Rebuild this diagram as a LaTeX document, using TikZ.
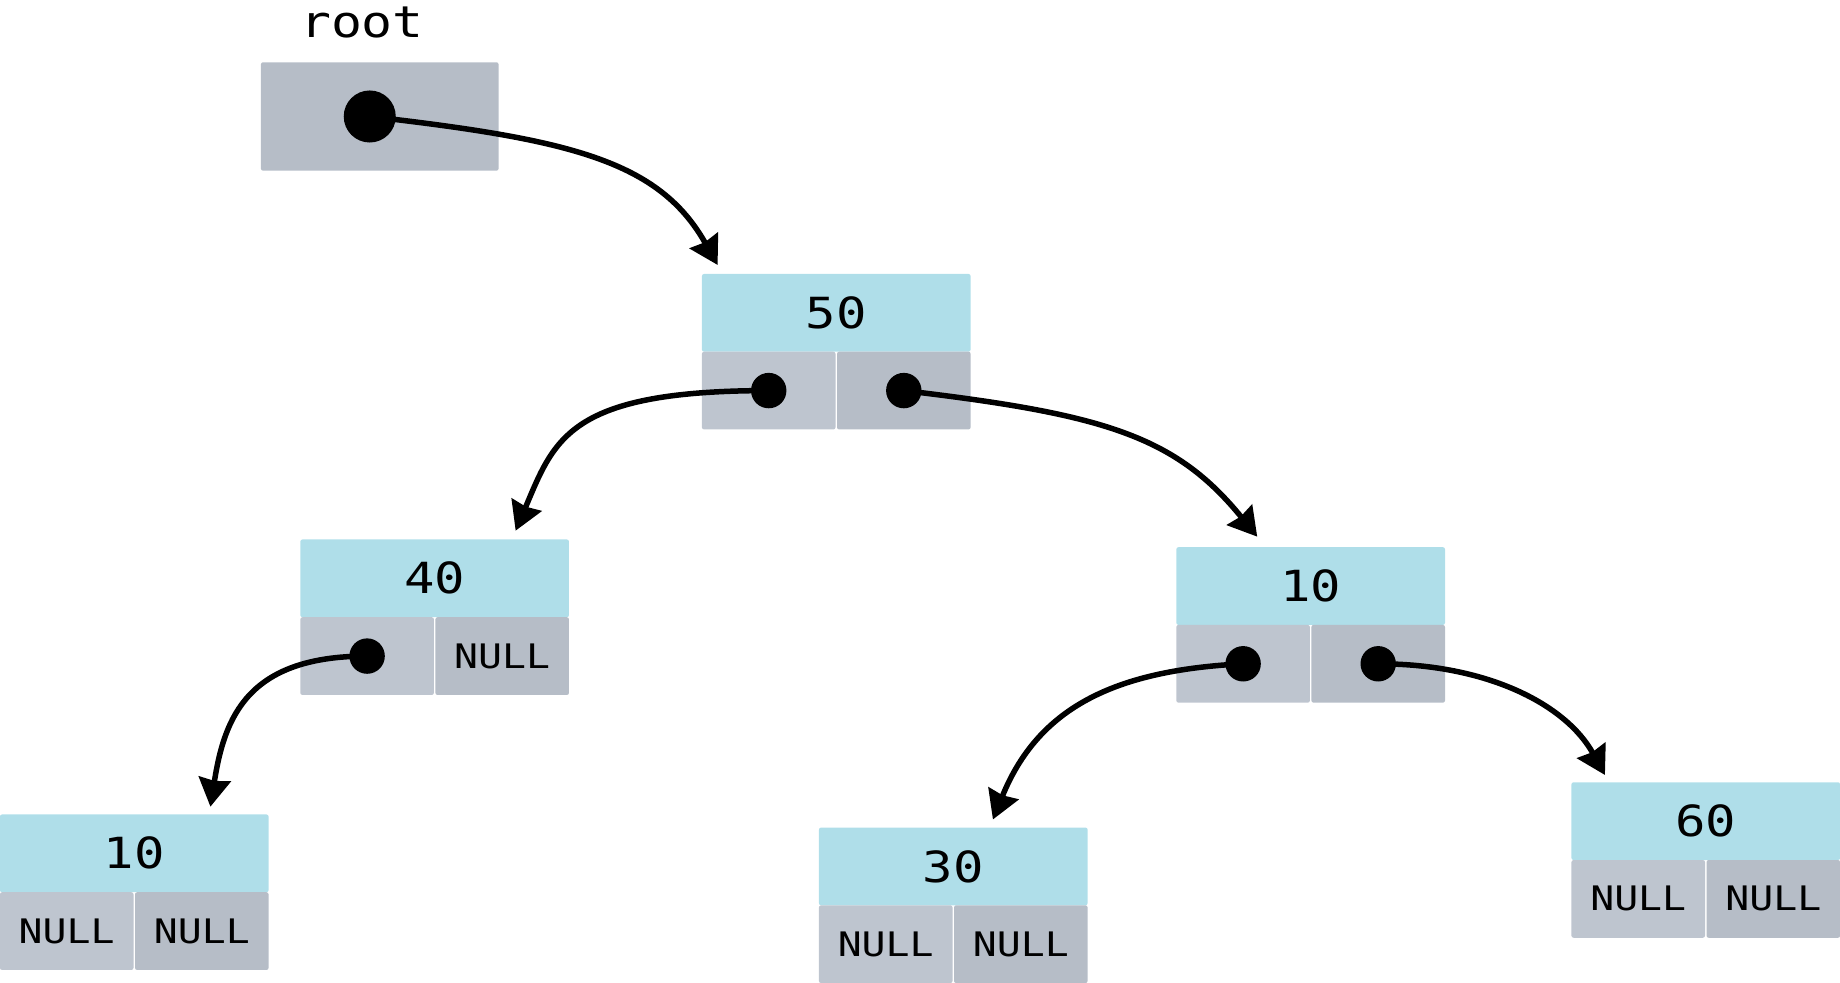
\documentclass[tikz,border=0pt]{standalone}
\usepackage{fontspec}
\usepackage{tikz}
\usetikzlibrary{arrows.meta}
\newfontfamily\codefont[FakeStretch=1.18]{DejaVu Sans Mono}
\definecolor{keyblue}{RGB}{175,222,233}
\definecolor{leftgray}{RGB}{190,197,207}
\definecolor{rightgray}{RGB}{182,189,199}
\tikzset{
	keycell/.style={rectangle,fill=keyblue,minimum width=2.685cm,minimum height=0.777cm,
		inner sep=0pt,outer sep=0pt,rounded corners=0.6pt,font=\codefont\fontsize{12.2pt}{14pt}\selectfont},
	lcell/.style={rectangle,fill=leftgray,minimum width=1.335cm,minimum height=0.777cm,
		inner sep=0pt,outer sep=0pt,rounded corners=0.6pt,font=\codefont\fontsize{9.6pt}{11pt}\selectfont},
	rcell/.style={lcell,fill=rightgray},
	ptrdot/.style={circle,fill=black,minimum size=0.354cm,inner sep=0pt},
	ptr/.style={line width=0.055cm,-{Stealth[length=0.28cm,width=0.32cm,inset=0.02cm]}}
}
\begin{document}
\begin{tikzpicture}[x=0.01cm,y=-0.01cm]
\useasboundingbox (0,0) rectangle (1840,983);
\node[rectangle,fill=rightgray,minimum width=2.375cm,minimum height=1.084cm,rounded corners=0.6pt] (rootbox) at (379.75,116.5) {};
\node[anchor=base,font=\codefont\fontsize{12.4pt}{14pt}\selectfont] (rootlbl) at (362,37.7) {root};
\node[ptrdot,minimum size=0.52cm] (droot) at ([xshift=-0.1cm]rootbox.center) {};
\node[keycell] (k50) at (836.25,312.85) {50};
\node[lcell,anchor=north west] (l50) at (k50.south west) {};
\node[rcell,anchor=north east] (r50) at (k50.south east) {};
\node[ptrdot] (d50l) at (l50) {};
\node[ptrdot] (d50r) at (r50) {};
\node[keycell] (k40) at (434.65,578.35) {40};
\node[lcell,anchor=north west] (l40) at (k40.south west) {};
\node[rcell,anchor=north east] (r40) at (k40.south east) {NULL};
\node[ptrdot] (d40) at (l40) {};
\node[keycell] (k10r) at (1310.65,586.05) {10};
\node[lcell,anchor=north west] (l10r) at (k10r.south west) {};
\node[rcell,anchor=north east] (r10r) at (k10r.south east) {};
\node[ptrdot] (d10l) at (l10r) {};
\node[ptrdot] (d10r) at (r10r) {};
\node[keycell] (k10l) at (134.25,853.35) {10};
\node[lcell,anchor=north west] (l10l) at (k10l.south west) {NULL};
\node[rcell,anchor=north east] (r10l) at (k10l.south east) {NULL};
\node[keycell] (k30) at (953.25,866.45) {30};
\node[lcell,anchor=north west] (l30) at (k30.south west) {NULL};
\node[rcell,anchor=north east] (r30) at (k30.south east) {NULL};
\node[keycell] (k60) at (1705.75,821.15) {60};
\node[lcell,anchor=north west] (l60) at (k60.south west) {NULL};
\node[rcell,anchor=north east] (r60) at (k60.south east) {NULL};
\coordinate (t50) at ([shift={(15.7,-9)}]k50.north west);
\coordinate (t40) at ([shift={(215.3,-8.8)}]k40.north west);
\coordinate (t10r) at ([shift={(80.9,-10.5)}]k10r.north west);
\coordinate (t10l) at ([shift={(210.5,-7.8)}]k10l.north west);
\coordinate (t30) at ([shift={(174,-8.1)}]k30.north west);
\coordinate (t60) at ([shift={(33.5,-7.3)}]k60.north west);
\draw[ptr] (droot.center) .. controls +(200,23) and +(-58.8,-104.4) .. (t50);
\draw[ptr] (d50l.center) .. controls +(-200,0) and +(39,-92) .. (t40);
\draw[ptr] (d50r.center) .. controls +(200,23.6) and +(-81.9,-100.9) .. (t10r);
\draw[ptr] (d40.center) .. controls +(-120,0) and +(14,-89) .. (t10l);
\draw[ptr] (d10l.center) .. controls +(-130,6.5) and +(45,-111) .. (t30);
\draw[ptr] (d10r.center) .. controls +(110,0) and +(-38.8,-70) .. (t60);
\end{tikzpicture}
\end{document}
